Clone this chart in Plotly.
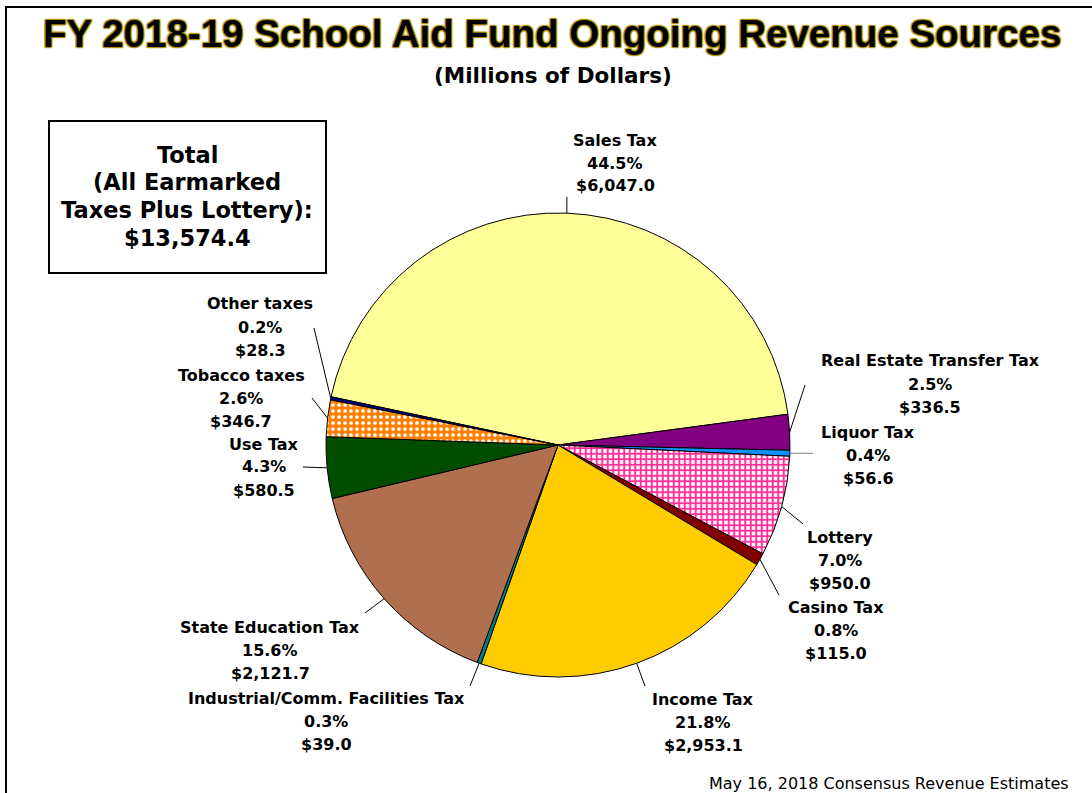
import math
import plotly.graph_objects as go

# ---------------- data ----------------
categories = [
    "Sales Tax", "Real Estate Transfer Tax", "Liquor Tax", "Lottery", "Casino Tax",
    "Income Tax", "Industrial/Comm. Facilities Tax", "State Education Tax",
    "Use Tax", "Tobacco taxes", "Other taxes",
]
values = [6047.0, 336.5, 56.6, 950.0, 115.0, 2953.1, 39.0, 2121.7, 580.5, 346.7, 28.3]
total_label = "$13,574.4"

# ---------------- styles ----------------
colors = ["#FFFF99", "#800080", "#0A93FF", "#FFFFFF", "#800000",
          "#FFCC00", "#008080", "#B07050", "#004D00", "#FF8000", "#000080"]
pattern_shapes = ["", "", "", "+", "", "", "", "", "", ".", ""]
pattern_fg = ["black", "black", "black", "#FF3399", "black", "black", "black", "black",
              "black", "#FFFFFF", "black"]
pattern_solidity = [0.3, 0.3, 0.3, 0.6, 0.3, 0.3, 0.3, 0.3, 0.3, 0.3, 0.3]
pattern_size = [5, 5, 5, 5.5, 5, 5, 5, 5, 5, 6, 5]

W, H = 1092, 793
CX, CY, R = 558, 445, 232          # pie centre / radius in pixels (layout)
ROT = 282                           # start angle, degrees clockwise from 12 o'clock

# label placement (layout): first-line centre (px) and leader end point (px)
label_pos = {
    "Sales Tax": (615, 140), "Real Estate Transfer Tax": (930, 361),
    "Liquor Tax": (868, 432), "Lottery": (840, 537), "Casino Tax": (836, 607),
    "Income Tax": (703, 699), "Industrial/Comm. Facilities Tax": (326, 698),
    "State Education Tax": (270, 627), "Use Tax": (264, 444),
    "Tobacco taxes": (241, 375), "Other taxes": (260, 304),
}
leader_end = {
    "Sales Tax": (None, 197), "Real Estate Transfer Tax": (805, 385),
    "Liquor Tax": (813, None), "Lottery": (803, 524), "Casino Tax": (779, 595),
    "Income Tax": (645, 686), "Industrial/Comm. Facilities Tax": (470, 686),
    "State Education Tax": (365, 613), "Use Tax": (303, 467),
    "Tobacco taxes": (312, 398), "Other taxes": (314, 328),
}
LINE_SP = 23


def fx(x):
    return x / W


def fy(y):
    return 1 - y / H


fig = go.Figure()
fig.add_trace(go.Pie(
    labels=categories, values=values, sort=False, direction="clockwise",
    rotation=ROT, textinfo="none", showlegend=False,
    marker=dict(colors=colors, line=dict(color="black", width=1),
                pattern=dict(shape=pattern_shapes, fgcolor=pattern_fg, bgcolor=colors,
                             size=pattern_size, solidity=pattern_solidity, fillmode="replace")),
    domain=dict(x=[fx(CX - R), fx(CX + R)], y=[fy(CY + R), fy(CY - R)]),
))

annotations = []
shapes = []
tot = sum(values)
cum = 0.0
label_font = dict(family="DejaVu Sans", size=16, color="black")
for cat, v in zip(categories, values):
    mid = ROT + (cum + v / 2) / tot * 360
    cum += v
    a = math.radians(mid)
    sx, sy = CX + R * math.sin(a), CY - R * math.cos(a)
    ex, ey = leader_end[cat]
    ex = sx if ex is None else ex
    ey = sy if ey is None else ey
    shapes.append(dict(type="line", xref="paper", yref="paper",
                       x0=fx(sx), y0=fy(sy), x1=fx(ex), y1=fy(ey),
                       line=dict(color="#808080" if cat == "Liquor Tax" else "black", width=1)))
    lx, ly = label_pos[cat]
    lines = [cat, f"{v / tot * 100:.1f}%", f"${v:,.1f}"]
    for i, t in enumerate(lines):
        annotations.append(dict(text=f"<b>{t}</b>", x=fx(lx), y=fy(ly + i * LINE_SP),
                                xref="paper", yref="paper", showarrow=False,
                                xanchor="center", yanchor="middle", font=label_font))

# title, subtitle
annotations.append(dict(text="<b>FY 2018-19 School Aid Fund Ongoing Revenue Sources</b>",
                        x=fx(552), y=fy(34), xref="paper", yref="paper", showarrow=False,
                        xanchor="center", yanchor="middle",
                        font=dict(family="Liberation Sans", size=38.5, color="black",
                                  shadow="1px 1px 1px #B09000, -1px -1px 1px #B09000, 1px -1px 1px #B09000, -1px 1px 1px #B09000")))
annotations.append(dict(text="<b>(Millions of Dollars)</b>", x=fx(553), y=fy(75),
                        xref="paper", yref="paper", showarrow=False,
                        xanchor="center", yanchor="middle",
                        font=dict(family="DejaVu Sans", size=21.5, color="black")))
# total box text
box_lines = ["Total", "(All Earmarked", "Taxes Plus Lottery):", total_label]
for i, t in enumerate(box_lines):
    annotations.append(dict(text=f"<b>{t}</b>", x=fx(187), y=fy(155 + i * 27.5),
                            xref="paper", yref="paper", showarrow=False,
                            xanchor="center", yanchor="middle",
                            font=dict(family="DejaVu Sans", size=22.5, color="black")))
# footnote
annotations.append(dict(text="May 16, 2018 Consensus Revenue Estimates", x=fx(1071), y=fy(783),
                        xref="paper", yref="paper", showarrow=False,
                        xanchor="right", yanchor="middle",
                        font=dict(family="DejaVu Sans", size=16, color="black")))

shapes.append(dict(type="rect", xref="paper", yref="paper",
                   x0=fx(49), y0=fy(273), x1=fx(326), y1=fy(121),
                   line=dict(color="black", width=2), fillcolor="rgba(0,0,0,0)"))
# outer frame
shapes.append(dict(type="rect", xref="paper", yref="paper",
                   x0=fx(6), y0=fy(H + 10), x1=fx(W + 10), y1=fy(7),
                   line=dict(color="black", width=2), fillcolor="rgba(0,0,0,0)"))

fig.update_layout(width=W, height=H, autosize=False,
                  margin=dict(l=0, r=0, t=0, b=0),
                  paper_bgcolor="white", plot_bgcolor="white",
                  annotations=annotations, shapes=shapes)

fig.write_html("out.html", config={"displayModeBar": False},
               post_script="document.body.style.margin='0';")
